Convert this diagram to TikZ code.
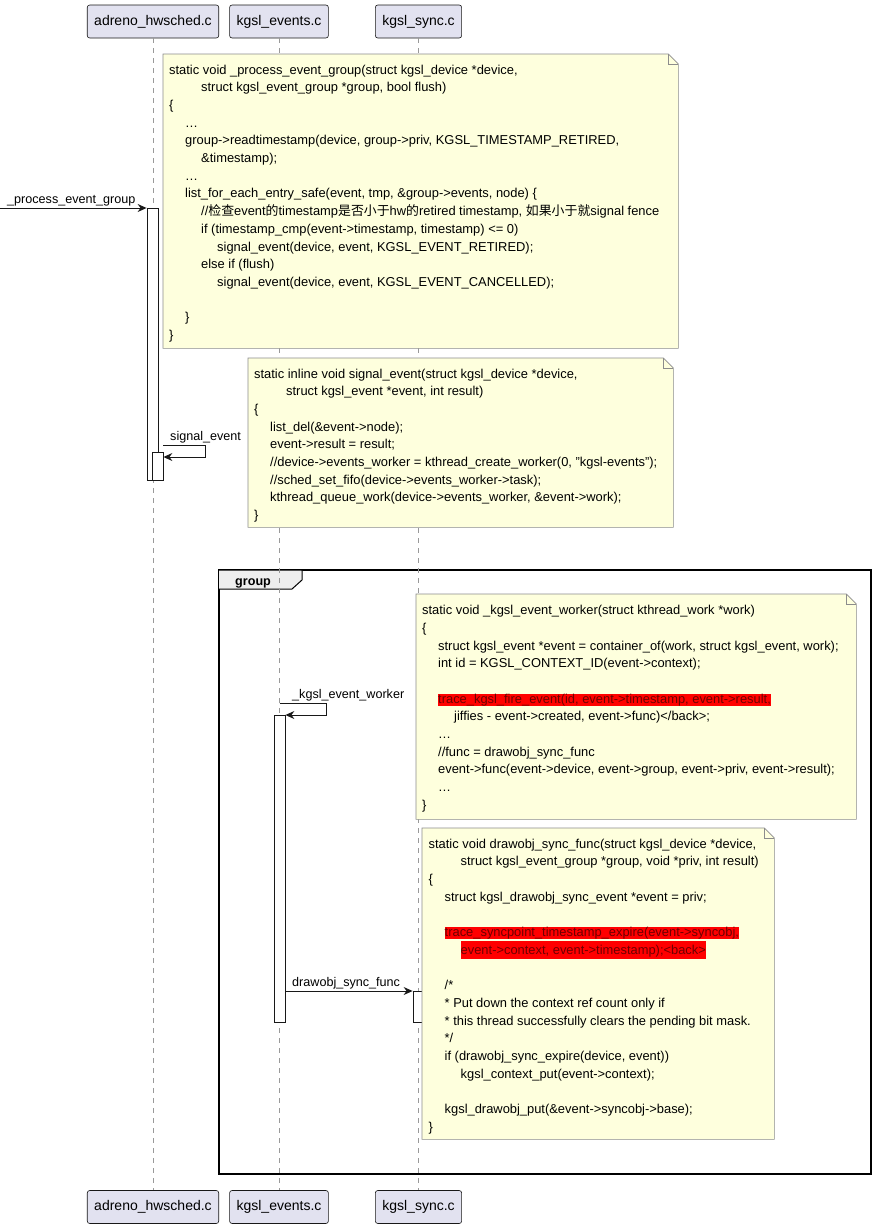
\documentclass[tikz,border=0pt]{standalone}
\usepackage{fontspec}
\setmainfont{Liberation Sans}
\newfontfamily\cjkfont{Noto Sans CJK SC}
\usetikzlibrary{arrows.meta,positioning,calc}

\definecolor{notefill}{HTML}{FEFFDD}
\definecolor{noteborder}{HTML}{8C8C8C}
\definecolor{partfill}{HTML}{E2E2F0}
\definecolor{umlline}{HTML}{181818}
\definecolor{tabfill}{HTML}{EEEEEE}
\definecolor{markred}{HTML}{FF0000}
\definecolor{marktext}{HTML}{6E0000}

% indentation levels inside the notes
\newcommand{\ia}{\hspace*{16pt}}
\newcommand{\ib}{\hspace*{32pt}}
\newcommand{\ic}{\hspace*{48pt}}
% red marked source lines
\newcommand{\redmark}[1]{{\setlength{\fboxsep}{0pt}\colorbox{markred}{\color{marktext}#1}}}
\newcommand{\redmarktall}[1]{{\setlength{\fboxsep}{0pt}\colorbox{markred}{\rule[-5pt]{0pt}{18pt}\color{marktext}#1}}}
% folded note outline around an (invisible) box node
\newcommand{\notefold}[1]{%
  \filldraw[notebody] (#1.north west) -- ($(#1.north east)+(-10,0)$) -- ($(#1.north east)+(0,10)$)
    -- (#1.south east) -- (#1.south west) -- cycle;
  \draw[notebody, fill=none] ($(#1.north east)+(-10,0)$) -- ++(0,10) -- ++(10,0);
}

\tikzset{
  part/.style={draw=umlline, fill=partfill, rounded corners=2.5pt, line width=0.6pt,
    minimum height=33pt, inner xsep=7pt, font=\fontsize{14}{16}\selectfont},
  lifeline/.style={draw=gray!80, line width=0.8pt, dash pattern=on 5pt off 5pt},
  act/.style={draw=umlline, fill=white, line width=0.8pt, minimum width=11pt, inner sep=0, anchor=north},
  msg/.style={draw=umlline, line width=0.9pt, -{Stealth[length=9pt,width=8pt,inset=3pt]}},
  lbl/.style={anchor=base west, inner sep=0, font=\fontsize{12.6}{15}\selectfont},
  notebox/.style={draw=none, fill=none, inner sep=0, anchor=north west},
  notebody/.style={draw=noteborder, fill=notefill, line width=0.6pt},
  notetext/.style={anchor=north west, inner sep=0, align=left, font=\fontsize{12.9}{17.7}\selectfont},
  frame/.style={draw=black, line width=1.5pt}
}

\begin{document}
\begin{tikzpicture}[x=1pt,y=-1pt]
    \useasboundingbox (0,0) rectangle (877,1229);

    % Group frame
    \draw[frame] (219,570) rectangle (871,1174);
    \filldraw[fill=tabfill, draw=black, line width=1pt] (219,570) -- (302,570) -- (302,580) -- (292,589) -- (219,589);
    \node[lbl, font=\fontsize{12.6}{15}\selectfont\bfseries] (grpLabel) at (235,585.5) {group};

    % Participants
    \node[part] (top-hw) at (153,21.5) {adreno\_hwsched.c};
    \node[part] (top-ev) at (279,21.5) {kgsl\_events.c};
    \node[part] (top-sy) at (418.5,21.5) {kgsl\_sync.c};
    \node[part] (bot-hw) at (153,1207) {adreno\_hwsched.c};
    \node[part] (bot-ev) at (279,1207) {kgsl\_events.c};
    \node[part] (bot-sy) at (418.5,1207) {kgsl\_sync.c};
    \foreach \p in {hw,ev,sy} {
        \draw[lifeline] (top-\p.south) -- (bot-\p.north);
    }

    % Activations
    \node[act, minimum height=272pt] (actHw) at (152.5,208) {};
    \node[act, minimum height=28pt] (actHw2) at (157.5,452) {};
    \node[act, minimum height=307pt] (actEv) at (279.5,715) {};
    \node[act, minimum height=31pt] (actSy) at (418.5,991) {};

    % Messages
    \coordinate (entry) at (0,208);
    \draw[msg] (entry) -- (actHw.north west);
    \node[lbl] (lProc) at (7,203.5) {\_process\_event\_group};

    \draw[msg] ($(actHw2.north east)+(0,-7)$) -- ++(42,0) |- ($(actHw2.north east)+(0,5)$);
    \node[lbl] (lSignal) at (170,440.5) {signal\_event};

    \draw[msg] ($(actEv.north)+(0,-12)$) -- ++(47,0) |- (actEv.north east);
    \node[lbl] (lWorker) at (292,698.5) {\_kgsl\_event\_worker};

    \draw[msg] (actEv.east |- actSy.north) -- (actSy.north west);
    \node[lbl] (lSync) at (292,986.5) {drawobj\_sync\_func};

    % Note: _process_event_group
    \node[notebox, minimum width=515pt, minimum height=294pt] (nGroup) at (163,54) {};
    \notefold{nGroup}
    \node[notetext] (tGroup) at (169,61.5) {\strut static void \_process\_event\_group(struct kgsl\_device *device,\\
\ib struct kgsl\_event\_group *group, bool flush)\\
\{\\
\ia …\\
\ia group->readtimestamp(device, group->priv, KGSL\_TIMESTAMP\_RETIRED,\\
\ib \&timestamp);\\
\ia …\\
\ia list\_for\_each\_entry\_safe(event, tmp, \&group->events, node) \{\\
\ib //{\cjkfont 检查}event{\cjkfont 的}timestamp{\cjkfont 是否小于}hw{\cjkfont 的}retired timestamp, {\cjkfont 如果小于就}signal fence\\
\ib if (timestamp\_cmp(event->timestamp, timestamp) <= 0)\\
\ic signal\_event(device, event, KGSL\_EVENT\_RETIRED);\\
\ib else if (flush)\\
\ic signal\_event(device, event, KGSL\_EVENT\_CANCELLED);\\
\mbox{}\\
\ia \}\\
\}};

    % Note: signal_event
    \node[notebox, minimum width=425pt, minimum height=169pt] (nSignal) at (248,358) {};
    \notefold{nSignal}
    \node[notetext] (tSignal) at (254,365.5) {\strut static inline void signal\_event(struct kgsl\_device *device,\\
\ib struct kgsl\_event *event, int result)\\
\{\\
\ia list\_del(\&event->node);\\
\ia event->result = result;\\
\ia //device->events\_worker = kthread\_create\_worker(0, "kgsl-events");\\
\ia //sched\_set\_fifo(device->events\_worker->task);\\
\ia kthread\_queue\_work(device->events\_worker, \&event->work);\\
\}};

    % Note: _kgsl_event_worker
    \node[notebox, minimum width=440pt, minimum height=225pt] (nWorker) at (416,594) {};
    \notefold{nWorker}
    \node[notetext] (tWorker) at (422,602) {\strut static void \_kgsl\_event\_worker(struct kthread\_work *work)\\
\{\\
\ia struct kgsl\_event *event = container\_of(work, struct kgsl\_event, work);\\
\ia int id = KGSL\_CONTEXT\_ID(event->context);\\
\mbox{}\\
\ia \redmark{trace\_kgsl\_fire\_event(id, event->timestamp, event->result,}\\
\ib jiffies - event->created, event->func)</back>;\\
\ia …\\
\ia //func = drawobj\_sync\_func\\
\ia event->func(event->device, event->group, event->priv, event->result);\\
\ia …\\
\}};

    % Note: drawobj_sync_func
    \node[notebox, minimum width=352pt, minimum height=311pt] (nSync) at (422,828) {};
    \notefold{nSync}
    \node[notetext] (tSync) at (428.5,835.5) {\strut static void drawobj\_sync\_func(struct kgsl\_device *device,\\
\ib struct kgsl\_event\_group *group, void *priv, int result)\\
\{\\
\ia struct kgsl\_drawobj\_sync\_event *event = priv;\\
\mbox{}\\
\ia \redmark{trace\_syncpoint\_timestamp\_expire(event->syncobj,}\\
\ib \redmarktall{event->context, event->timestamp);<back>}\\
\mbox{}\\
\ia /*\\
\ia * Put down the context ref count only if\\
\ia * this thread successfully clears the pending bit mask.\\
\ia */\\
\ia if (drawobj\_sync\_expire(device, event))\\
\ib kgsl\_context\_put(event->context);\\
\mbox{}\\
\ia kgsl\_drawobj\_put(\&event->syncobj->base);\\
\}};
\end{tikzpicture}
\end{document}
